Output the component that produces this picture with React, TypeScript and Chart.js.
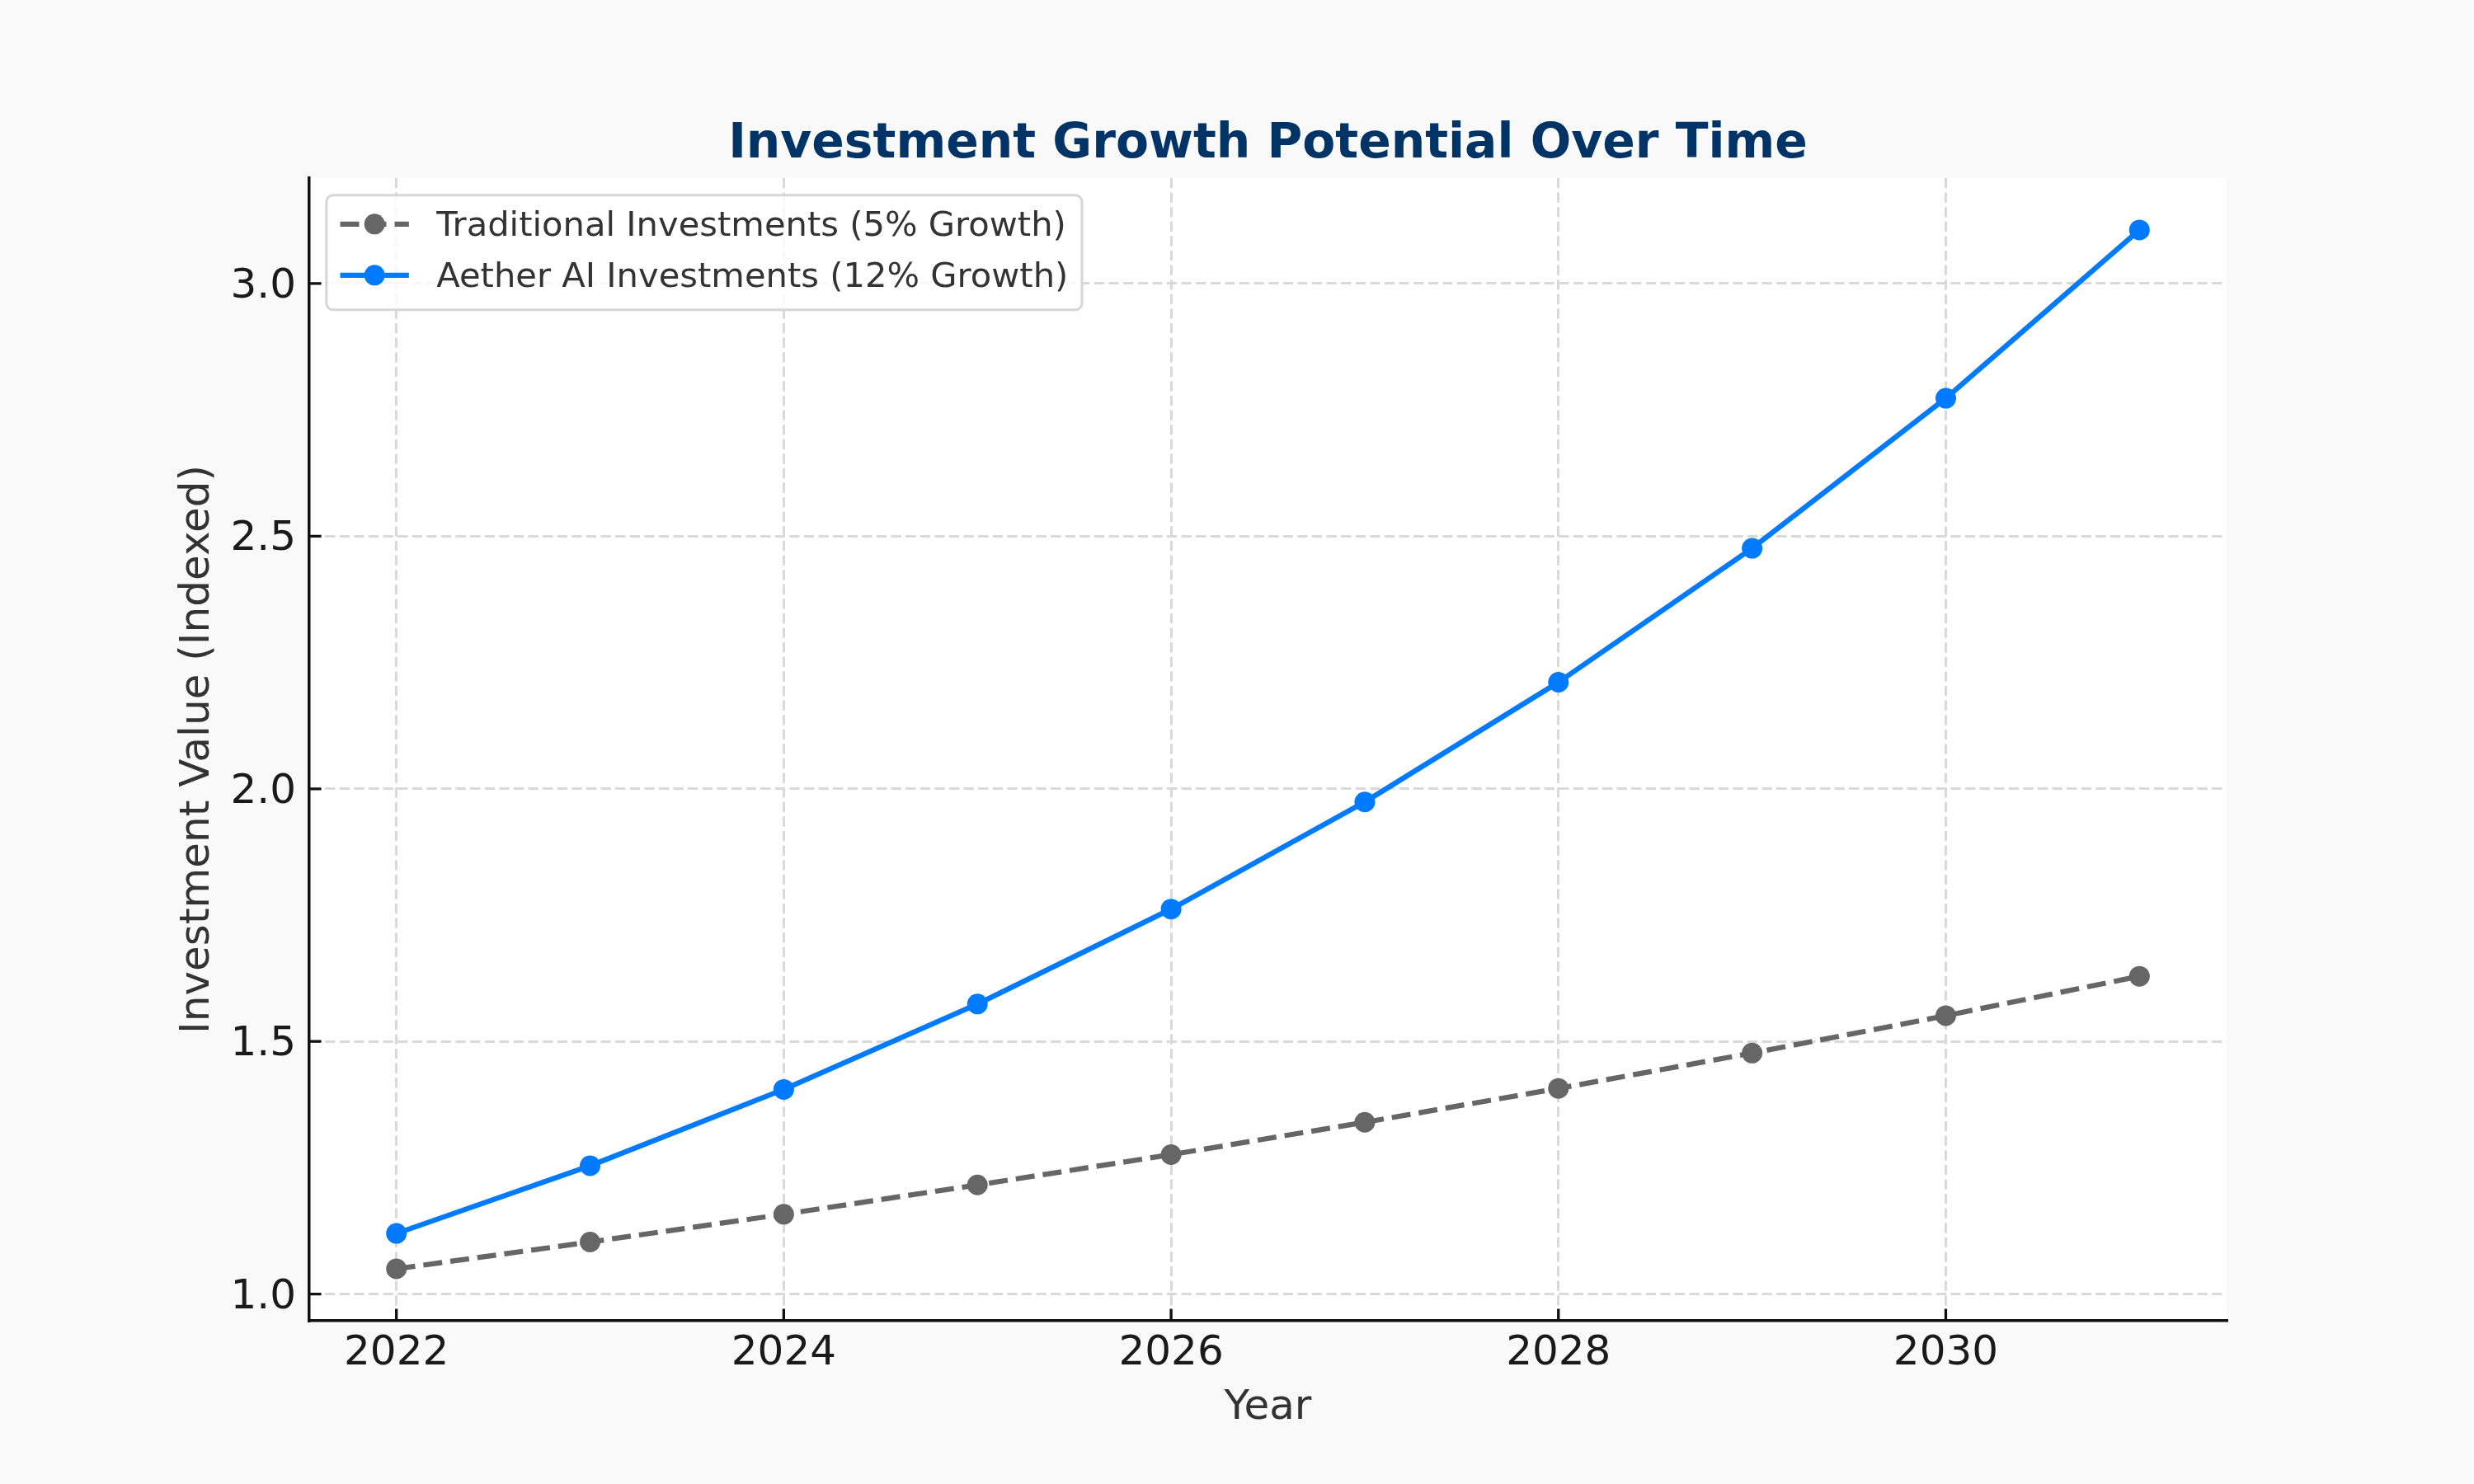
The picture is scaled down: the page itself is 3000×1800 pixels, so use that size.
import React, { useEffect, useRef } from "react";
import { Chart, registerables } from "chart.js";

Chart.register(...registerables);

// ---- data ----
const TITLE = "Investment Growth Potential Over Time";
const X_LABEL = "Year";
const Y_LABEL = "Investment Value (Indexed)";
const YEARS = [2022, 2023, 2024, 2025, 2026, 2027, 2028, 2029, 2030, 2031];
const TRADITIONAL = [1.05, 1.103, 1.158, 1.216, 1.276, 1.34, 1.407, 1.477, 1.551, 1.629];
const AETHER = [1.12, 1.254, 1.405, 1.574, 1.762, 1.974, 2.211, 2.476, 2.773, 3.106];
const SERIES_LABELS = [
  "Traditional Investments (5% Growth)",
  "Aether AI Investments (12% Growth)",
];
const X_TICKS = [2022, 2024, 2026, 2028, 2030];
const Y_TICKS = [1.0, 1.5, 2.0, 2.5, 3.0];

// ---- styles ----
const W = 3000;
const H = 1800;
const FONT = "'DejaVu Sans', sans-serif";
const GRAY = "#666666";
const BLUE = "#007bff";

// matplotlib-like 5% autoscale margins
const allY = [...TRADITIONAL, ...AETHER];
const yLo = Math.min(...allY);
const yHi = Math.max(...allY);
const YMIN = yLo - 0.05 * (yHi - yLo);
const YMAX = yHi + 0.05 * (yHi - yLo);
const xLo = Math.min(...YEARS);
const xHi = Math.max(...YEARS);
const XMIN = xLo - 0.05 * (xHi - xLo);
const XMAX = xHi + 0.05 * (xHi - xLo);

const bgPlugin = {
  id: "bgPlugin",
  beforeDraw(chart: any) {
    const { ctx, chartArea: a } = chart;
    ctx.save();
    ctx.fillStyle = "#f9f9f9";
    ctx.fillRect(0, 0, chart.width, chart.height);
    ctx.fillStyle = "#ffffff";
    ctx.fillRect(a.left, a.top, a.right - a.left, a.bottom - a.top);
    ctx.restore();
  },
};

const inwardTicks = {
  id: "inwardTicks",
  afterDatasetsDraw(chart: any) {
    const { ctx, chartArea: a, scales } = chart;
    const len = 14.6;
    ctx.save();
    ctx.strokeStyle = "#111111";
    ctx.lineWidth = 3.3;
    ctx.lineCap = "butt";
    ctx.beginPath();
    for (const t of scales.x.ticks) {
      const px = scales.x.getPixelForValue(t.value);
      ctx.moveTo(px, a.bottom);
      ctx.lineTo(px, a.bottom - len);
    }
    for (const t of scales.y.ticks) {
      const py = scales.y.getPixelForValue(t.value);
      ctx.moveTo(a.left, py);
      ctx.lineTo(a.left + len, py);
    }
    ctx.stroke();
    ctx.restore();
  },
};

const mplLegend = {
  id: "mplLegend",
  afterDraw(chart: any) {
    const { ctx, chartArea: a } = chart;
    const fs = 41.67;
    const datasets = chart.data.datasets;
    ctx.save();
    ctx.font = `${fs}px ${FONT}`;
    let maxW = 0;
    for (const ds of datasets) maxW = Math.max(maxW, ctx.measureText(ds.label).width);
    const bx = a.left + 0.5 * fs;
    const by = a.top + 0.5 * fs;
    const bw = 0.4 * fs * 2 + 2 * fs + 0.8 * fs + maxW;
    const bh = 139;
    ctx.beginPath();
    ctx.roundRect(bx, by, bw, bh, 8);
    ctx.fillStyle = "rgba(255,255,255,0.8)";
    ctx.fill();
    ctx.lineWidth = 3;
    ctx.strokeStyle = "#d6d6d6";
    ctx.stroke();

    const hx0 = bx + 0.4 * fs;
    const hx1 = hx0 + 2 * fs;
    const tx = hx1 + 0.8 * fs;
    datasets.forEach((ds: any, i: number) => {
      const cy = by + 35 + i * 62;
      ctx.beginPath();
      ctx.setLineDash(ds.borderDash || []);
      ctx.lineCap = "butt";
      ctx.lineWidth = ds.borderWidth;
      ctx.strokeStyle = ds.borderColor;
      ctx.moveTo(hx0, cy);
      ctx.lineTo(hx1, cy);
      ctx.stroke();
      ctx.setLineDash([]);
      ctx.beginPath();
      ctx.arc((hx0 + hx1) / 2, cy, ds.pointRadius, 0, Math.PI * 2);
      ctx.fillStyle = ds.pointBackgroundColor;
      ctx.fill();
      ctx.fillStyle = "#333333";
      ctx.textAlign = "left";
      ctx.textBaseline = "alphabetic";
      ctx.fillText(ds.label, tx, cy + 14.5);
    });
    ctx.restore();
  },
};

export default function App() {
  const ref = useRef<HTMLCanvasElement | null>(null);

  useEffect(() => {
    if (!ref.current) return;
    Chart.defaults.font.family = FONT;
    const common = {
      borderWidth: 6.25,
      borderCapStyle: "butt",
      borderJoinStyle: "round",
      pointRadius: 12.5,
      pointHoverRadius: 12.5,
      pointBorderWidth: 0,
      tension: 0,
      fill: false,
    };
    const chart = new Chart(ref.current, {
      type: "line",
      data: {
        datasets: [
          {
            ...common,
            label: SERIES_LABELS[0],
            data: YEARS.map((x, i) => ({ x, y: TRADITIONAL[i] })),
            borderColor: GRAY,
            backgroundColor: GRAY,
            pointBackgroundColor: GRAY,
            borderDash: [23, 10],
          },
          {
            ...common,
            label: SERIES_LABELS[1],
            data: YEARS.map((x, i) => ({ x, y: AETHER[i] })),
            borderColor: BLUE,
            backgroundColor: BLUE,
            pointBackgroundColor: BLUE,
          },
        ],
      } as any,
      options: {
        responsive: false,
        animation: false,
        devicePixelRatio: 1,
        layout: { padding: { left: 0, right: 300, top: 0, bottom: 0 } },
        plugins: {
          legend: { display: false },
          tooltip: { enabled: false },
          title: {
            display: true,
            text: TITLE,
            fullSize: false,
            color: "#003366",
            font: { size: 58.3, weight: "bold" },
            padding: { top: 140.5, bottom: 5.5 },
          },
        },
        scales: {
          x: {
            type: "linear",
            min: XMIN,
            max: XMAX,
            afterBuildTicks: (s: any) => {
              s.ticks = X_TICKS.map((v) => ({ value: v }));
            },
            afterFit: (s: any) => {
              s.height = 198;
            },
            ticks: {
              font: { size: 50 },
              color: "#1a1a1a",
              padding: 10,
              maxRotation: 0,
              autoSkip: false,
              callback: (v: any) => String(v),
            },
            grid: { color: "#d9d9d9", lineWidth: 3, drawTicks: false },
            border: { display: true, color: "#111111", width: 3.5, dash: [12.3, 5.3] },
            title: {
              display: true,
              text: X_LABEL,
              color: "#333333",
              font: { size: 50 },
              padding: { top: 0, bottom: 62 },
            },
          },
          y: {
            type: "linear",
            min: YMIN,
            max: YMAX,
            afterBuildTicks: (s: any) => {
              s.ticks = Y_TICKS.map((v) => ({ value: v }));
            },
            afterFit: (s: any) => {
              s.width = 375;
            },
            ticks: {
              font: { size: 50 },
              color: "#1a1a1a",
              padding: 16,
              labelOffset: 4,
              autoSkip: false,
              callback: (v: any) => Number(v).toFixed(1),
            },
            grid: { color: "#d9d9d9", lineWidth: 3, drawTicks: false },
            border: { display: true, color: "#111111", width: 3.5, dash: [12.3, 5.3] },
            title: {
              display: true,
              text: Y_LABEL,
              color: "#333333",
              font: { size: 50 },
              padding: { top: 210, bottom: 0 },
            },
          },
        },
      } as any,
      plugins: [bgPlugin, inwardTicks, mplLegend],
    });
    return () => chart.destroy();
  }, []);

  return (
    <div
      style={{
        position: "absolute",
        left: 0,
        top: 0,
        width: W,
        height: H,
        background: "#f9f9f9",
      }}
    >
      <canvas ref={ref} width={W} height={H} style={{ display: "block", width: W, height: H }} />
    </div>
  );
}
